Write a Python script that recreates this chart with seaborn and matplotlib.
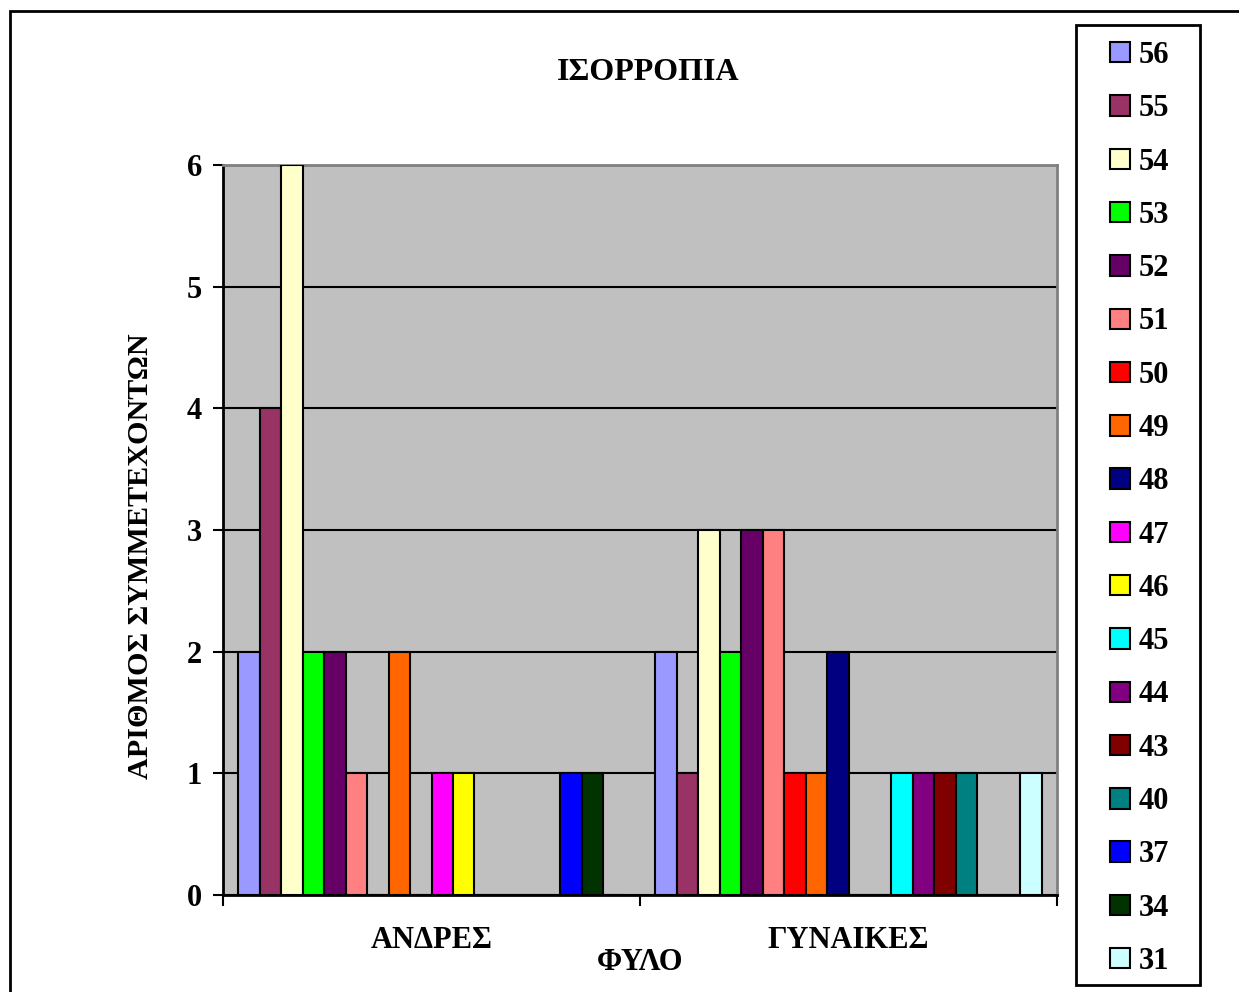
import matplotlib
matplotlib.use("Agg")
import matplotlib.pyplot as plt
from matplotlib.patches import Rectangle
import seaborn as sns
import pandas as pd

# Age groups (legend order) and their counts per gender
ages = ["56", "55", "54", "53", "52", "51", "50", "49", "48",
        "47", "46", "45", "44", "43", "40", "37", "34", "31"]
genders = ["ΑΝΔΡΕΣ", "ΓΥΝΑΙΚΕΣ"]
men = [2, 4, 6, 2, 2, 1, 0, 2, 0, 1, 1, 0, 0, 0, 0, 1, 1, 0]
women = [2, 1, 3, 2, 3, 3, 1, 1, 2, 0, 0, 1, 1, 1, 1, 0, 0, 1]
colors = ["#9999FF", "#993366", "#FFFFCC", "#00FF00", "#660066", "#FF8080",
          "#FF0000", "#FF6600", "#000080", "#FF00FF", "#FFFF00", "#00FFFF",
          "#800080", "#800000", "#008080", "#0000FF", "#003300", "#CCFFFF"]

rows = []
for g, vals in zip(genders, [men, women]):
    for a, v in zip(ages, vals):
        rows.append({"gender": g, "age": a, "count": v})
df = pd.DataFrame(rows)

sns.set_theme(style="white")
plt.rcParams["font.family"] = ["Liberation Serif", "DejaVu Serif"]
plt.rcParams["font.weight"] = "bold"
for key in ["text.color", "axes.labelcolor", "xtick.color", "ytick.color"]:
    plt.rcParams[key] = "black"

FS = 22

fig = plt.figure(figsize=(12.39, 9.92), dpi=100)
ax = fig.add_axes([223 / 1239, 1 - 895 / 992, (1057 - 223) / 1239, (895 - 165) / 992])
ax.set_facecolor("#C0C0C0")

sns.barplot(data=df, x="gender", y="count", hue="age", hue_order=ages,
            order=genders, palette=colors, width=0.928, saturation=1,
            edgecolor="black", linewidth=1.5, ax=ax, zorder=3)

ax.set_ylim(0, 6)
ax.set_xlim(-0.5, 1.5)
ax.set_yticks(range(0, 7))
ax.yaxis.grid(True, color="black", linewidth=1.5, zorder=1)
ax.set_axisbelow(True)

for s in ["left", "bottom"]:
    ax.spines[s].set_color("black")
    ax.spines[s].set_linewidth(2)
for s in ["top", "right"]:
    ax.spines[s].set_color("#808080")
    ax.spines[s].set_linewidth(2)

ax.tick_params(axis="y", length=7, width=1.5, color="black", direction="out",
               labelsize=FS, pad=8, left=True)
ax.set_xticks([0, 1])
ax.set_xticklabels(genders, fontsize=FS, fontweight="bold")
ax.tick_params(axis="x", length=0, pad=22)
ax.set_xticks([-0.5, 0.5, 1.5], minor=True)
ax.tick_params(axis="x", which="minor", length=8, width=1.5, color="black",
               direction="out", bottom=True)
for lab in ax.get_yticklabels():
    lab.set_fontweight("bold")

ax.set_xlabel("ΦΥΛΟ", fontsize=FS, fontweight="bold", labelpad=-5)
ax.set_ylabel("ΑΡΙΘΜΟΣ ΣΥΜΜΕΤΕΧΟΝΤΩΝ", fontsize=21.7, fontweight="bold",
              va="center")
ax.yaxis.set_label_coords(-0.0995, 0.464)

fig.text(648 / 1239, 1 - 72 / 992, "ΙΣΟΡΡΟΠΙΑ", ha="center", va="center",
         fontsize=23, fontweight="bold")

# Legend entries; the frame is drawn as its own box
leg = ax.legend(loc="upper left", bbox_to_anchor=(1110 / 1239, 1 - 41 / 992),
                bbox_transform=fig.transFigure, frameon=False,
                fontsize=FS, handlelength=0.65, handleheight=0.65,
                handletextpad=0.3, labelspacing=0.795, borderpad=0,
                borderaxespad=0, title=None)
for t in leg.get_texts():
    t.set_fontweight("bold")
    t.set_color("black")
for h in leg.legend_handles:
    h.set_edgecolor("black")
    h.set_linewidth(1.5)

fig.patches.append(Rectangle((1076 / 1239, 1 - 985 / 992), 124 / 1239, 960 / 992,
                             transform=fig.transFigure, fill=False,
                             edgecolor="black", linewidth=2, zorder=1))
fig.patches.append(Rectangle((10 / 1239, -0.1), 1.2, 1 - 11 / 992 + 0.1,
                             transform=fig.transFigure, fill=False,
                             edgecolor="black", linewidth=2, zorder=0))

fig.savefig("out.png", dpi=100)
